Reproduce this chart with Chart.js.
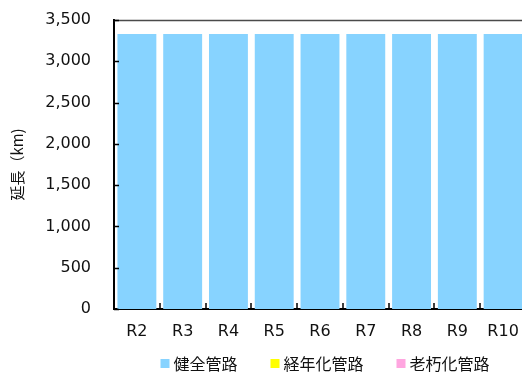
<!DOCTYPE html>
<html lang="ja">
<head>
<meta charset="utf-8">
<title>管路延長の推移</title>
<script src="https://cdn.jsdelivr.net/npm/chart.js@4.4.1/dist/chart.umd.min.js"></script>
<style>
  html, body { margin: 0; padding: 0; background: #fff; overflow: hidden; }
  #wrap { position: absolute; left: 0; top: 0; width: 522px; height: 373px; overflow: hidden; }
  canvas { display: block; }
</style>
</head>
<body>
<div id="wrap"><canvas id="chart" width="526" height="373"></canvas></div>
<script>
// 年度
const categories = ['R2', 'R3', 'R4', 'R5', 'R6', 'R7', 'R8', 'R9', 'R10'];
// 延長 (km)
const soundPipes = [3330, 3330, 3330, 3330, 3330, 3330, 3330, 3330, 3330];
const agedPipes = [0, 0, 0, 0, 0, 0, 0, 0, 0];
const deterioratedPipes = [0, 0, 0, 0, 0, 0, 0, 0, 0];
// 縦軸
const yMax = 3500;
const yStep = 500;
const yTitle = '延長（km)';

const seriesNames = ['健全管路', '経年化管路', '老朽化管路'];
const seriesColors = ['#87D3FF', '#FFFF00', '#FFA6E0'];

const FONT = "'DejaVu Sans', Verdana, 'Noto Sans CJK JP', sans-serif";
const JFONT = "'Noto Sans CJK JP', 'DejaVu Sans', sans-serif";

// 内向きの目盛線・上枠線
const frameTicks = {
  id: 'frameTicks',
  afterDraw(chart) {
    const { ctx, chartArea: a, scales: { x, y } } = chart;
    ctx.save();
    ctx.strokeStyle = '#4a4a4a';
    ctx.lineWidth = 1.5;
    ctx.beginPath();
    ctx.moveTo(a.left, Math.round(a.top) + 0.5);
    ctx.lineTo(a.right, Math.round(a.top) + 0.5);
    ctx.stroke();

    ctx.strokeStyle = '#000';
    ctx.lineWidth = 1.5;
    ctx.beginPath();
    y.ticks.forEach(t => {
      const py = Math.round(y.getPixelForValue(t.value)) + 0.5;
      ctx.moveTo(a.left, py);
      ctx.lineTo(a.left + 5, py);
    });
    for (let i = 1; i < categories.length; i++) {
      const px = Math.round((x.getPixelForValue(i - 1) + x.getPixelForValue(i)) / 2);
      ctx.moveTo(px, a.bottom);
      ctx.lineTo(px, a.bottom - 6);
    }
    ctx.stroke();
    ctx.restore();
  }
};

// 凡例
const boxLegend = {
  id: 'boxLegend',
  afterDraw(chart) {
    const { ctx } = chart;
    ctx.save();
    ctx.font = '16px ' + JFONT;
    ctx.textBaseline = 'middle';
    const box = 9, gapText = 4, gapItem = 33;
    const items = chart.data.datasets.map(d => ({
      label: d.label, color: d.backgroundColor, w: ctx.measureText(d.label).width
    }));
    const total = items.reduce((s, it) => s + box + gapText + it.w, 0) + gapItem * (items.length - 1);
    let cx = 325 - total / 2;
    const cy = 363;
    items.forEach(it => {
      ctx.fillStyle = it.color;
      ctx.fillRect(cx, cy - 4, box, box);
      cx += box + gapText;
      ctx.fillStyle = '#111';
      ctx.fillText(it.label, cx, cy + 1);
      cx += it.w + gapItem;
    });
    ctx.restore();
  }
};

new Chart(document.getElementById('chart'), {
  type: 'bar',
  data: {
    labels: categories,
    datasets: [
      { label: seriesNames[0], data: soundPipes, backgroundColor: seriesColors[0] },
      { label: seriesNames[1], data: agedPipes, backgroundColor: seriesColors[1] },
      { label: seriesNames[2], data: deterioratedPipes, backgroundColor: seriesColors[2] }
    ]
  },
  options: {
    responsive: false,
    animation: false,
    devicePixelRatio: 1,
    layout: { padding: { top: 20, right: 0, bottom: 34, left: 0 } },
    datasets: { bar: { categoryPercentage: 1, barPercentage: 0.85, borderWidth: 0 } },
    plugins: { legend: { display: false }, tooltip: { enabled: false } },
    scales: {
      x: {
        stacked: true,
        grid: { display: false, drawTicks: false },
        border: { display: true, color: '#000', width: 2 },
        ticks: { color: '#111', font: { family: FONT, size: 16 }, padding: 13, maxRotation: 0 },
        afterFit(s) { s.height = 30; s.paddingLeft = 0; s.paddingRight = 0; }
      },
      y: {
        stacked: true,
        min: 0,
        max: yMax,
        grid: { display: false, drawTicks: false },
        border: { display: true, color: '#000', width: 2 },
        ticks: {
          stepSize: yStep,
          color: '#111',
          font: { family: FONT, size: 16 },
          padding: 23,
          callback: v => v.toLocaleString('en-US')
        },
        title: {
          display: true,
          text: yTitle,
          color: '#111',
          font: { family: JFONT, size: 15 },
          padding: { top: 8, bottom: 0 }
        },
        afterFit(s) { s.width = 114; s.paddingTop = 0; s.paddingBottom = 0; }
      }
    }
  },
  plugins: [frameTicks, boxLegend]
});
</script>
</body>
</html>
